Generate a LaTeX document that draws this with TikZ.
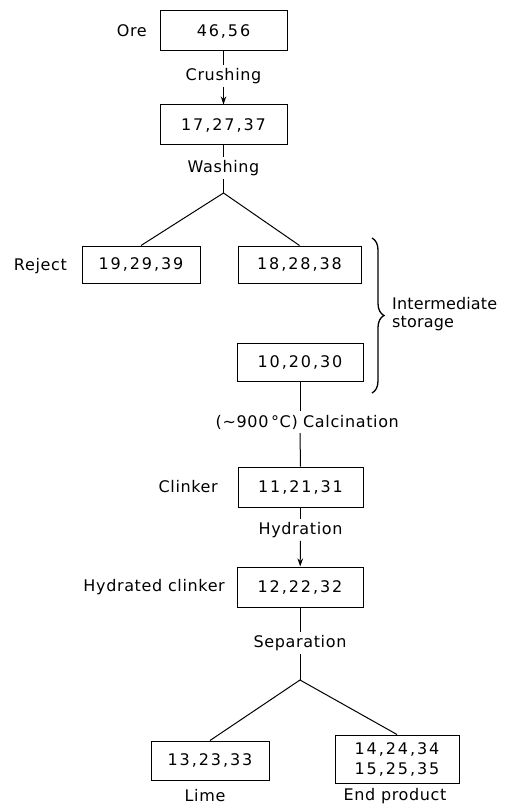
\documentclass[tikz,border=0pt]{standalone}
\usepackage{fontspec}
\setmainfont{DejaVu Sans}[LetterSpace=4]
\newfontfamily\numfont{DejaVu Sans}[LetterSpace=12]
\newfontfamily\storfont{DejaVu Sans}[LetterSpace=1]
\usetikzlibrary{arrows.meta,decorations.pathreplacing}
\begin{document}
\begin{tikzpicture}[x=1pt,y=-1pt,
  box/.style={draw, line width=1pt, inner sep=0pt, align=center,
    font=\numfont\fontsize{16}{20}\selectfont},
  lbl/.style={inner sep=3pt, font=\fontsize{16}{18}\selectfont},
  ln/.style={line width=1pt},
  arr/.style={line width=1pt, -{Stealth[length=8pt,width=5.5pt]}},
  ]
\useasboundingbox[fill=white] (0,0) rectangle (510,805);

% boxes
\node[box, minimum width=127pt, minimum height=40pt] (b1) at (223.5,31) {46,56};
\node[box, minimum width=127pt, minimum height=40pt] (b2) at (223.5,125) {17,27,37};
\node[box, minimum width=118pt, minimum height=37pt] (rej) at (141,264.5) {19,29,39};
\node[box, minimum width=123pt, minimum height=37pt] (b18) at (299.5,264.5) {18,28,38};
\node[box, minimum width=126pt, minimum height=38pt] (b10) at (300,362) {10,20,30};
\node[box, minimum width=125pt, minimum height=40pt] (b11) at (300.5,487) {11,21,31};
\node[box, minimum width=126pt, minimum height=40pt] (b12) at (300,587) {12,22,32};
\node[box, minimum width=118pt, minimum height=39pt] (lime) at (210,760.5) {13,23,33};
\node[box, minimum width=124pt, minimum height=48pt] (endp) at (397,759) {14,24,34\\15,25,35};

% side labels
\node[lbl, anchor=east] (orel) at (150,31) {Ore};
\node[lbl, anchor=east] (rejl) at (70,266) {Reject};
\node[lbl, anchor=east] (clkl) at (221,487) {Clinker};
\node[lbl, anchor=east] (hcl) at (228,587) {Hydrated clinker};
\node[lbl] (limel) at (205,796) {Lime};
\node[lbl] (endl) at (395,796) {End product};
\node[anchor=west, align=left, inner sep=0pt, font=\storfont\fontsize{16}{18}\selectfont] (stor) at (392,314) {Intermediate\\storage};

% process labels
\node[lbl] (crush) at (223.5,76) {Crushing};
\node[lbl] (wash) at (223.5,168) {Washing};
\node[lbl, anchor=east, inner sep=0pt] (calA) at (298,422) {({∼}900\,°C)};
\node[lbl, anchor=west, inner sep=0pt] (calB) at (303,422) {Calcination};
\node[lbl] (hyd) at (300.5,530) {Hydration};
\node[lbl] (sep) at (300,643) {Separation};

\coordinate (apex1) at (223.5,193);
\coordinate (apex2) at (300,680);
\coordinate (cg1) at (300,411);
\coordinate (cg2) at (300,433);
\coordinate (br1) at (372,238);
\coordinate (br2) at (372,393);

% connectors
\draw[ln] (b1) -- (crush);
\draw[arr] (crush) -- (b2);
\draw[ln] (b2) -- (wash);
\draw[ln] (wash) -- (apex1);
\draw[ln] (apex1) -- (rej.north);
\draw[ln] (apex1) -- (b18.north);
\draw[ln] (b10.south) -- (cg1);
\draw[ln] (cg2) -- (b11.north);
\draw[ln] (b11) -- (hyd);
\draw[arr] (hyd) -- (b12);
\draw[ln] (b12) -- (sep);
\draw[ln] (sep) -- (apex2);
\draw[ln] (apex2) -- (lime.north);
\draw[ln] (apex2) -- (endp.north);

% brace
\draw[line width=1.3pt, decorate, decoration={brace, amplitude=12pt}] (br1) -- (br2);
\end{tikzpicture}
\end{document}
